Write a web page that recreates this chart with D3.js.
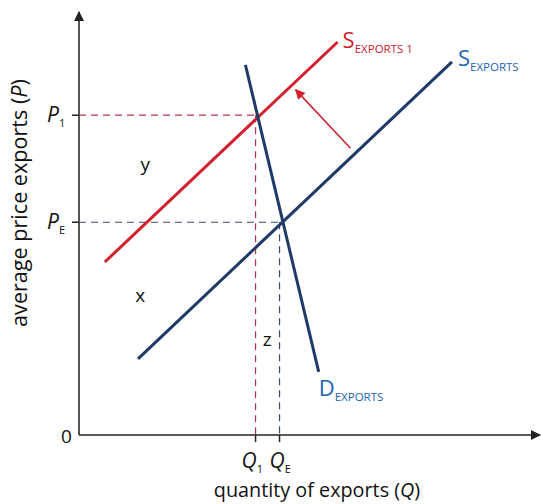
<!DOCTYPE html>
<html><head><meta charset="utf-8">
<script src="https://cdn.jsdelivr.net/npm/d3@7"></script>
<style>body{margin:0;background:#fff}svg{display:block}text{font-family:"Open Sans","Noto Sans",sans-serif}</style>
</head><body>
<script>
// Data (abstract units 0-100)
const supplyExports1 = [[5.6, 40.9], [56.1, 92.9]];
const supplyExports  = [[12.8, 18.0], [80.9, 88.2]];
const demandExports  = [[36.1, 87.5], [52.0, 14.9]];
const shiftArrow     = [[58.9, 67.8], [47.0, 81.6]];
const priceLevels    = {P1: 75.6, PE: 50.3};
const quantityLevels = {Q1: 38.3, QE: 43.5};
const regionLabels   = [["y", 14.4, 62.5], ["x", 13.3, 31.5], ["z", 40.8, 21.0]];

const W = 541, H = 504;
const x = d3.scaleLinear().domain([0, 100]).range([79, 540]);
const y = d3.scaleLinear().domain([0, 100]).range([435, 12]);
const red = "#d2202f", navy = "#1f3a66", blueText = "#1c64b4";

const svg = d3.select("body").append("svg").attr("width", W).attr("height", H);
const defs = svg.append("defs");
function marker(id, color, w, h) {
  defs.append("marker").attr("id", id).attr("viewBox", "0 0 10 10").attr("refX", 9).attr("refY", 5)
    .attr("markerWidth", w).attr("markerHeight", h).attr("markerUnits", "userSpaceOnUse").attr("orient", "auto")
    .append("path").attr("d", "M0,0L10,5L0,10Z").attr("fill", color);
}
marker("axArrow", "#222", 10, 10);
marker("redArrow", red, 11, 10);

// dashed guides
svg.append("line").attr("x1", x(0)).attr("x2", x(quantityLevels.Q1)).attr("y1", y(priceLevels.P1)).attr("y2", y(priceLevels.P1))
  .attr("stroke", "#b8344e").attr("stroke-width", 1.2).attr("stroke-dasharray", "7,5");
svg.append("line").attr("x1", x(quantityLevels.Q1)).attr("x2", x(quantityLevels.Q1)).attr("y1", y(priceLevels.P1)).attr("y2", y(0))
  .attr("stroke", "#b8344e").attr("stroke-width", 1.2).attr("stroke-dasharray", "7,5");
svg.append("line").attr("x1", x(0)).attr("x2", x(quantityLevels.QE)).attr("y1", y(priceLevels.PE)).attr("y2", y(priceLevels.PE))
  .attr("stroke", "#3c4a6a").attr("stroke-width", 1.2).attr("stroke-dasharray", "7,5");
svg.append("line").attr("x1", x(quantityLevels.QE)).attr("x2", x(quantityLevels.QE)).attr("y1", y(priceLevels.PE)).attr("y2", y(0))
  .attr("stroke", "#3c4a6a").attr("stroke-width", 1.2).attr("stroke-dasharray", "7,5");

// axes
svg.append("line").attr("x1", x(0)).attr("x2", x(0)).attr("y1", y(0)).attr("y2", y(100))
  .attr("stroke", "#555").attr("stroke-width", 2).attr("marker-end", "url(#axArrow)");
svg.append("line").attr("x1", x(0)).attr("x2", x(100)).attr("y1", y(0)).attr("y2", y(0))
  .attr("stroke", "#222").attr("stroke-width", 1.6).attr("marker-end", "url(#axArrow)");
// ticks
[priceLevels.P1, priceLevels.PE].forEach(p => svg.append("line").attr("x1", x(0) - 7).attr("x2", x(0)).attr("y1", y(p)).attr("y2", y(p)).attr("stroke", "#222").attr("stroke-width", 1.5));
[quantityLevels.Q1, quantityLevels.QE].forEach(q => svg.append("line").attr("x1", x(q)).attr("x2", x(q)).attr("y1", y(0)).attr("y2", y(0) + 7).attr("stroke", "#222").attr("stroke-width", 1.5));

const line = d3.line().x(d => x(d[0])).y(d => y(d[1]));
svg.append("path").attr("d", line(supplyExports1)).attr("stroke", red).attr("stroke-width", 3).attr("fill", "none");
svg.append("path").attr("d", line(supplyExports)).attr("stroke", navy).attr("stroke-width", 3).attr("fill", "none");
svg.append("path").attr("d", line(demandExports)).attr("stroke", navy).attr("stroke-width", 3).attr("fill", "none");
svg.append("path").attr("d", line(shiftArrow)).attr("stroke", red).attr("stroke-width", 1.6).attr("fill", "none").attr("marker-end", "url(#redArrow)");

// curve labels
function subLabel(px, py, main, sub, color, mainSize, subSize, italic) {
  const t = svg.append("text").attr("x", px).attr("y", py).attr("fill", color);
  t.append("tspan").text(main).attr("font-size", mainSize).attr("font-style", italic ? "italic" : "normal");
  t.append("tspan").text(sub).attr("font-size", subSize).attr("dy", subSize * 0.45);
  return t;
}
subLabel(x(56.1) + 5, y(92.9) + 6, "S", "EXPORTS 1", red, 22, 11.5);
subLabel(x(80.9) + 6, y(88.2) + 4, "S", "EXPORTS", blueText, 22, 11.5);
subLabel(x(52.0) + 0, y(14.9) + 24, "D", "EXPORTS", blueText, 22, 11.5);

// axis labels
subLabel(47, y(priceLevels.P1) + 7, "P", "1", "#111", 21, 11, true);
subLabel(47, y(priceLevels.PE) + 7, "P", "E", "#111", 21, 11, true);
subLabel(x(quantityLevels.Q1) - 14, y(0) + 33, "Q", "1", "#111", 21, 11, true);
subLabel(x(quantityLevels.QE) - 10, y(0) + 33, "Q", "E", "#111", 21, 11, true);
svg.append("text").attr("x", 61).attr("y", y(0) + 8).attr("font-size", 19).attr("fill", "#111").text("0");

regionLabels.forEach(([t, a, b]) => svg.append("text").attr("x", x(a)).attr("y", y(b)).attr("font-size", 19).attr("fill", "#111").attr("text-anchor", "middle").text(t));

const xt = svg.append("text").attr("x", 317).attr("y", 497).attr("font-size", 19.8).attr("fill", "#111").attr("text-anchor", "middle");
xt.append("tspan").text("quantity of exports (");
xt.append("tspan").text("Q").attr("font-style", "italic");
xt.append("tspan").text(")");
const yt = svg.append("text").attr("transform", "translate(27,203) rotate(-90)").attr("font-size", 21.6).attr("fill", "#111").attr("text-anchor", "middle");
yt.append("tspan").text("average price exports (");
yt.append("tspan").text("P").attr("font-style", "italic");
yt.append("tspan").text(")");
</script>
</body></html>
